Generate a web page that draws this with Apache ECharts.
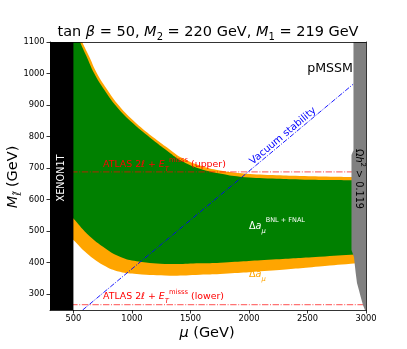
<!DOCTYPE html>
<html>
<head>
<meta charset="utf-8">
<title>pMSSM</title>
<script src="https://cdn.jsdelivr.net/npm/echarts@6.0.0/dist/echarts.min.js"></script>
<style>html,body{margin:0;padding:0;background:#fff}</style>
</head>
<body>
<div id="main" style="width:407px;height:349px;"></div>
<script>
// 坐标轴刻度
var xTicks = [500, 1000, 1500, 2000, 2500, 3000];
var yTicks = [300, 400, 500, 600, 700, 800, 900, 1000, 1100];

// 区域边界 [mu, M] (GeV)，首尾点落在图外/遮挡区内
var greenUpper = [[440,1160],[485,1160],[556,1100],[620,1048],[676,1002],[765,948],[872,894],[1009,842],[1180,789],[1300,755],[1411,726],[1582,698],[1750,683],[1923,673],[2200,667],[2436,664],[2700,662],[2920,661],[2970,660]];
var greenLower = [[440,562],[500,540],[614,493],[753,451],[898,419],[1041,405],[1325,396],[1582,398],[1753,400],[2200,410],[2600,419],[2920,427],[2970,429]];
var orangeUpper = [[440,1160],[500,1160],[575,1100],[640,1050],[695,1005],[785,951],[892,897],[1030,845],[1200,793],[1320,760],[1430,732],[1600,706],[1765,692],[1935,684],[2200,678],[2436,675],[2700,673],[2920,672],[2970,671]];
var orangeLower = [[440,494],[500,472],[614,430],[753,393],[898,371],[1041,364],[1325,359],[1582,362],[1753,364],[2200,375],[2600,388],[2920,398],[2970,400]];
var xenonRegion = [[300,250],[500,250],[500,1100],[300,1100]];
var relicRegion = [[2893,1100],[3000,1100],[3000,250],[2991,250],[2974,266],[2955,291],[2940,313],[2923,336],[2912,367],[2897,418],[2876,440],[2876,742],[2893,757]];

// 约束线
var atlasUpper = [[300,688],[3000,688]];
var atlasLower = [[300,267],[3000,267]];
var vacuumLine = [[579,250],[2890,966]];

function band(upper, lower) {
    return upper.concat(lower.slice().reverse());
}

function areaSeries(pts, color, z, smooth) {
    return {
        type: 'custom', z: z, silent: true, clip: true,
        data: [pts[0]],
        renderItem: function (params, api) {
            var points = pts.map(function (p) { return api.coord(p); });
            return {type: 'polygon', shape: {points: points, smooth: smooth || 0}, style: {fill: color, stroke: null}};
        }
    };
}

function lineSeries(pts, color, width, dash, z) {
    return {
        type: 'line', z: z, silent: true, symbol: 'none', data: pts,
        lineStyle: {color: color, width: width, type: dash}
    };
}

var font = 'DejaVu Sans';
var myChart = echarts.init(document.getElementById('main'));

var axisCommon = {
    axisLine: {show: true, lineStyle: {color: '#000', width: 0.8}},
    axisTick: {show: true, inside: false, length: 3.5, lineStyle: {color: '#000', width: 0.8}},
    splitLine: {show: false},
    axisLabel: {color: '#000', fontFamily: font, fontSize: 8.3, margin: 5,
        formatter: function (v) { return String(v); }}
};

var option = {
    animation: false,
    backgroundColor: '#fff',
    grid: {left: 50, right: 41, top: 42, bottom: 39, containLabel: false, outerBoundsMode: 'none'},
    xAxis: [
        echarts.util.merge({
            type: 'value', min: 300, max: 3000, z: 10,
            axisTick: {customValues: xTicks},
            axisLabel: {customValues: xTicks}
        }, axisCommon),
        {type: 'value', min: 300, max: 3000, position: 'top', z: 10,
            axisLine: {show: true, lineStyle: {color: '#000', width: 0.8}},
            axisTick: {show: false}, axisLabel: {show: false}, splitLine: {show: false}}
    ],
    yAxis: [
        echarts.util.merge({
            type: 'value', min: 250, max: 1100, z: 10,
            axisTick: {customValues: yTicks},
            axisLabel: {customValues: yTicks, margin: 5.5}
        }, axisCommon),
        {type: 'value', min: 250, max: 1100, position: 'right', z: 10,
            axisLine: {show: true, lineStyle: {color: '#000', width: 0.8}},
            axisTick: {show: false}, axisLabel: {show: false}, splitLine: {show: false}}
    ],
    series: [
        areaSeries(band(orangeUpper, orangeLower), '#ffa500', 1, 0.45),
        areaSeries(band(greenUpper, greenLower), '#008000', 2, 0.45),
        lineSeries(atlasUpper, 'rgba(255,0,0,0.55)', 1.2, [6.4, 1.6, 1, 1.6], 3),
        lineSeries(atlasLower, 'rgba(255,0,0,0.55)', 1.2, [6.4, 1.6, 1, 1.6], 3),
        lineSeries(vacuumLine, '#0000ff', 0.9, [5, 1.5, 1, 1.5], 3),
        areaSeries(xenonRegion, '#000000', 4),
        areaSeries(relicRegion, '#808080', 4)
    ],
    graphic: [
        // 标题
        {type: 'text', x: 208, y: 32, z: 100, style: {
            text: '{n|tan }{i|β}{n| = 50, }{i|M}{s|2}{n| = 220 GeV, }{i|M}{s|1}{n| = 219 GeV}',
            align: 'center', verticalAlign: 'middle', fill: '#000',
            rich: {
                n: {fontFamily: font, fontSize: 14.5, lineHeight: 20},
                i: {fontFamily: font, fontSize: 14.5, fontStyle: 'italic', lineHeight: 20},
                s: {fontFamily: font, fontSize: 10, lineHeight: 11, verticalAlign: 'bottom'}
            }}},
        // x 轴名称
        {type: 'text', x: 207, y: 333, z: 100, style: {
            text: '{i|μ}{n| (GeV)}', align: 'center', verticalAlign: 'middle', fill: '#000',
            rich: {
                n: {fontFamily: font, fontSize: 14.5},
                i: {fontFamily: font, fontSize: 14.5, fontStyle: 'italic'}
            }}},
        // y 轴名称
        {type: 'text', x: 13, y: 177, rotation: Math.PI / 2, z: 100, style: {
            text: '{i|M}{s|ℓ̃}{n| (GeV)}', align: 'center', verticalAlign: 'middle', fill: '#000',
            rich: {
                n: {fontFamily: font, fontSize: 14.5, lineHeight: 20},
                i: {fontFamily: font, fontSize: 14.5, fontStyle: 'italic', lineHeight: 20},
                s: {fontFamily: font, fontSize: 10, fontStyle: 'italic', lineHeight: 11, verticalAlign: 'bottom'}
            }}},
        {type: 'text', x: 61, y: 178, rotation: Math.PI / 2, z: 100, style: {
            text: 'XENON1T', fill: '#fff', font: '9.7px "DejaVu Sans"', align: 'center', verticalAlign: 'middle'}},
        {type: 'text', x: 359, y: 179, rotation: -Math.PI / 2, z: 100, style: {
            text: '{n|Ω}{i|h}{p|2}{n| > 0.119}', align: 'center', verticalAlign: 'middle', fill: '#000',
            rich: {
                n: {fontFamily: font, fontSize: 9.7, lineHeight: 14},
                i: {fontFamily: font, fontSize: 9.7, fontStyle: 'italic', lineHeight: 14},
                p: {fontFamily: font, fontSize: 7, lineHeight: 8, verticalAlign: 'top'}
            }}},
        {type: 'text', x: 330, y: 69, z: 100, style: {
            text: 'pMSSM', fill: '#000', font: '12.6px "DejaVu Sans"', align: 'center', verticalAlign: 'middle'}},
        {type: 'text', x: 103, y: 165, z: 100, style: {
            text: '{n|ATLAS 2}{i|ℓ}{n| + }{i|E}{s|T}{p|misss}{n| (upper)}', align: 'left', verticalAlign: 'middle', fill: '#ff0000',
            rich: {
                n: {fontFamily: font, fontSize: 9.4, lineHeight: 16},
                i: {fontFamily: font, fontSize: 9.4, fontStyle: 'italic', lineHeight: 16},
                s: {fontFamily: font, fontSize: 6.8, fontStyle: 'italic', lineHeight: 9, verticalAlign: 'bottom'},
                p: {fontFamily: font, fontSize: 6.8, lineHeight: 9, verticalAlign: 'top'}
            }}},
        {type: 'text', x: 103, y: 297, z: 100, style: {
            text: '{n|ATLAS 2}{i|ℓ}{n| + }{i|E}{s|T}{p|misss}{n| (lower)}', align: 'left', verticalAlign: 'middle', fill: '#ff0000',
            rich: {
                n: {fontFamily: font, fontSize: 9.4, lineHeight: 16},
                i: {fontFamily: font, fontSize: 9.4, fontStyle: 'italic', lineHeight: 16},
                s: {fontFamily: font, fontSize: 6.8, fontStyle: 'italic', lineHeight: 9, verticalAlign: 'bottom'},
                p: {fontFamily: font, fontSize: 6.8, lineHeight: 9, verticalAlign: 'top'}
            }}},
        {type: 'text', x: 283, y: 136, rotation: 40 * Math.PI / 180, z: 100, style: {
            text: 'Vacuum stability', fill: '#0000ff', font: '10px "DejaVu Sans"', align: 'center', verticalAlign: 'middle'}},
        {type: 'text', x: 249, y: 226, z: 100, style: {
            text: '{n|Δ}{i|a}{s|μ}{p|BNL + FNAL}', align: 'left', verticalAlign: 'middle', fill: '#fff',
            rich: {
                n: {fontFamily: font, fontSize: 9.6, lineHeight: 18},
                i: {fontFamily: font, fontSize: 9.6, fontStyle: 'italic', lineHeight: 18},
                s: {fontFamily: font, fontSize: 6.8, fontStyle: 'italic', lineHeight: 8, verticalAlign: 'bottom'},
                p: {fontFamily: font, fontSize: 6.5, lineHeight: 8, verticalAlign: 'top'}
            }}},
        {type: 'text', x: 249, y: 274, z: 100, style: {
            text: '{n|Δ}{i|a}{s|μ}{p|BNL}', align: 'left', verticalAlign: 'middle', fill: '#ffa500',
            rich: {
                n: {fontFamily: font, fontSize: 9.6, lineHeight: 18},
                i: {fontFamily: font, fontSize: 9.6, fontStyle: 'italic', lineHeight: 18},
                s: {fontFamily: font, fontSize: 6.8, fontStyle: 'italic', lineHeight: 8, verticalAlign: 'bottom'},
                p: {fontFamily: font, fontSize: 6.5, lineHeight: 8, verticalAlign: 'top'}
            }}}
    ]
};

myChart.setOption(option);
</script>
</body>
</html>
